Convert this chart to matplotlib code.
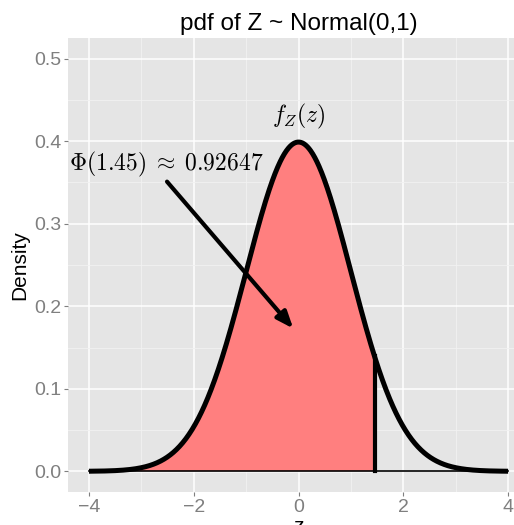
import numpy as np
import matplotlib
matplotlib.use("Agg")
import matplotlib.pyplot as plt

plt.rcParams['font.family'] = ['Liberation Sans', 'DejaVu Sans']
plt.rcParams['mathtext.fontset'] = 'cm'

# data
z = np.linspace(-4, 4, 801)
dens = np.exp(-z**2 / 2) / np.sqrt(2 * np.pi)
z_cut = 1.45
dens_cut = np.exp(-z_cut**2 / 2) / np.sqrt(2 * np.pi)
xticks = [-4, -2, 0, 2, 4]
yticks = [0.0, 0.1, 0.2, 0.3, 0.4, 0.5]
ytick_labels = ["0.0", "0.1", "0.2", "0.3", "0.4", "0.5"]

fig = plt.figure(figsize=(5.14, 5.25), dpi=100)
ax = fig.add_axes([0.1323, 0.0629, 0.897, 0.8647])
ax.set_facecolor("#E5E5E5")

# grid
ax.set_xticks(xticks)
ax.set_xticks([-3, -1, 1, 3], minor=True)
ax.set_yticks(yticks)
ax.set_yticks([0.05, 0.15, 0.25, 0.35, 0.45], minor=True)
ax.grid(which="major", color="white", lw=1.1)
ax.grid(which="minor", color="#F2F2F2", lw=0.6)
ax.set_axisbelow(True)
for s in ax.spines.values():
    s.set_visible(False)

# shaded area
m = z <= z_cut
ax.fill_between(z[m], 0, dens[m], facecolor="#FF7F7F", edgecolor="white", lw=1.0, zorder=2)
ax.plot([-4, 4], [0, 0], color="black", lw=1.2, zorder=3)
ax.plot(z, dens, color="black", lw=3.6, solid_capstyle="butt", zorder=4)
ax.plot([z_cut, z_cut], [0, dens_cut], color="black", lw=3.0, zorder=4)

# annotations
ax.text(0, 0.43, r"$f_Z(z)$", fontsize=17, ha="center", va="center")
ax.text(-2.53, 0.372, r"$\Phi(1.45)\;\approx\;0.92647$", fontsize=17, ha="center", va="center")
ax.annotate("", xy=(-0.1, 0.173), xytext=(-2.51, 0.351),
            arrowprops=dict(arrowstyle="-|>,head_length=1.0,head_width=0.4",
                            color="black", lw=3.0, shrinkA=0, shrinkB=0))

ax.set_xlim(-4.4, 4.4)
ax.set_ylim(-0.025, 0.525)
ax.set_yticklabels(ytick_labels)
ax.tick_params(which="major", colors="#7F7F7F", labelsize=14, length=3, width=0.8, pad=2)
ax.tick_params(which="minor", length=0)
ax.set_xlabel("z", fontsize=15, labelpad=1)
ax.set_ylabel("Density", fontsize=15, labelpad=3)
ax.set_title("pdf of Z ~ Normal(0,1)", fontsize=17.5, pad=6, x=0.5)

fig.savefig("out.png", dpi=100)
